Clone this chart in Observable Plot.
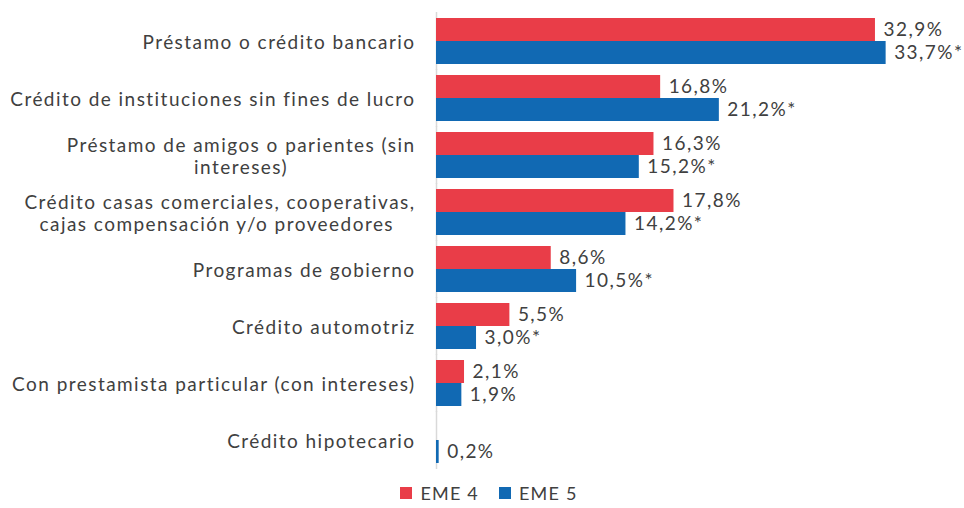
<!DOCTYPE html>
<html>
<head>
<meta charset="utf-8">
<script src="https://cdn.jsdelivr.net/npm/d3@7"></script>
<script src="https://cdn.jsdelivr.net/npm/@observablehq/plot@0.6"></script>
<style>
  body { margin: 0; background: #fff; font-family: Lato, "Open Sans", sans-serif; }
  #legend { display: flex; justify-content: center; align-items: center; gap: 20px; height: 30px; padding-left: 14px; color: #404040; font-size: 18px; letter-spacing: 1.2px; }
  #legend .item { display: flex; align-items: center; gap: 8px; }
  #legend .sw { width: 12px; height: 12px; display: inline-block; }
</style>
</head>
<body>
<div id="chart"></div>
<div id="legend"></div>
<script>
const categories = [
  "Préstamo o crédito bancario",
  "Crédito de instituciones sin fines de lucro",
  "Préstamo de amigos o parientes (sin intereses)",
  "Crédito casas comerciales, cooperativas, cajas compensación y/o proveedores",
  "Programas de gobierno",
  "Crédito automotriz",
  "Con prestamista particular (con intereses)",
  "Crédito hipotecario"
];
const tickLabels = [
  "Préstamo o crédito bancario",
  "Crédito de instituciones sin fines de lucro",
  "Préstamo de amigos o parientes (sin\nintereses)",
  "Crédito casas comerciales, cooperativas,\ncajas compensación y/o proveedores ",
  "Programas de gobierno",
  "Crédito automotriz",
  "Con prestamista particular (con intereses)",
  "Crédito hipotecario"
];
const series = ["EME 4", "EME 5"];
const colors = ["#E93D48", "#1169B3"];
const eme4 = [32.9, 16.8, 16.3, 17.8, 8.6, 5.5, 2.1, null];
const eme5 = [33.7, 21.2, 15.2, 14.2, 10.5, 3.0, 1.9, 0.2];
const eme5Significant = [true, true, true, true, true, true, false, false];

const fmt = v => v.toFixed(1).replace(".", ",") + "%";
const data = [];
categories.forEach((c, i) => {
  if (eme4[i] != null) data.push({cat: c, serie: series[0], v: eme4[i], label: fmt(eme4[i])});
  if (eme5[i] != null) data.push({cat: c, serie: series[1], v: eme5[i], label: fmt(eme5[i]) + (eme5Significant[i] ? "*" : "")});
});
const labelMap = new Map(categories.map((c, i) => [c, tickLabels[i]]));

const chart = Plot.plot({
  width: 964,
  height: 478,
  marginLeft: 436,
  marginRight: 21,
  marginTop: 11,
  marginBottom: 9,
  style: {fontFamily: "Lato, 'Open Sans', sans-serif", fontSize: "19px", color: "#404040", background: "#fff"},
  x: {domain: [0, 38], axis: null},
  fy: {domain: categories, paddingInner: 0.2, paddingOuter: 0.1, axis: null},
  y: {domain: series, axis: null, padding: 0},
  color: {domain: series, range: colors},
  marks: [
    Plot.ruleX([0], {stroke: "#d9d9d9", strokeWidth: 1.5, insetTop: -6, insetBottom: -6}),
    Plot.barX(data, {fy: "cat", y: "serie", x: "v", fill: "serie"}),
    Plot.text(data, {fy: "cat", y: "serie", x: "v", text: "label", textAnchor: "start", dx: 8, fill: "#404040", fontSize: 19}),
    Plot.axisFy({anchor: "left", tickSize: 0, tickPadding: 21, label: null, tickFormat: d => labelMap.get(d), fontSize: 19, lineHeight: 1.16, fill: "#404040"})
  ]
});
chart.style.letterSpacing = "1.45px";
document.getElementById("chart").append(chart);

// center the lines of wrapped category labels, as in the original
chart.querySelectorAll('g[aria-label="fy-axis tick label"] text').forEach(t => {
  const spans = t.querySelectorAll("tspan");
  if (spans.length > 1) {
    let L = 0;
    spans.forEach(s => { L = Math.max(L, s.getComputedTextLength()); });
    t.setAttribute("text-anchor", "middle");
    spans.forEach(s => s.setAttribute("x", -L / 2));
  }
});

const legend = document.getElementById("legend");
series.forEach((s, i) => {
  const item = document.createElement("span");
  item.className = "item";
  const sw = document.createElement("span");
  sw.className = "sw";
  sw.style.background = colors[i];
  const tx = document.createElement("span");
  tx.textContent = s;
  item.append(sw, tx);
  legend.append(item);
});
</script>
</body>
</html>
